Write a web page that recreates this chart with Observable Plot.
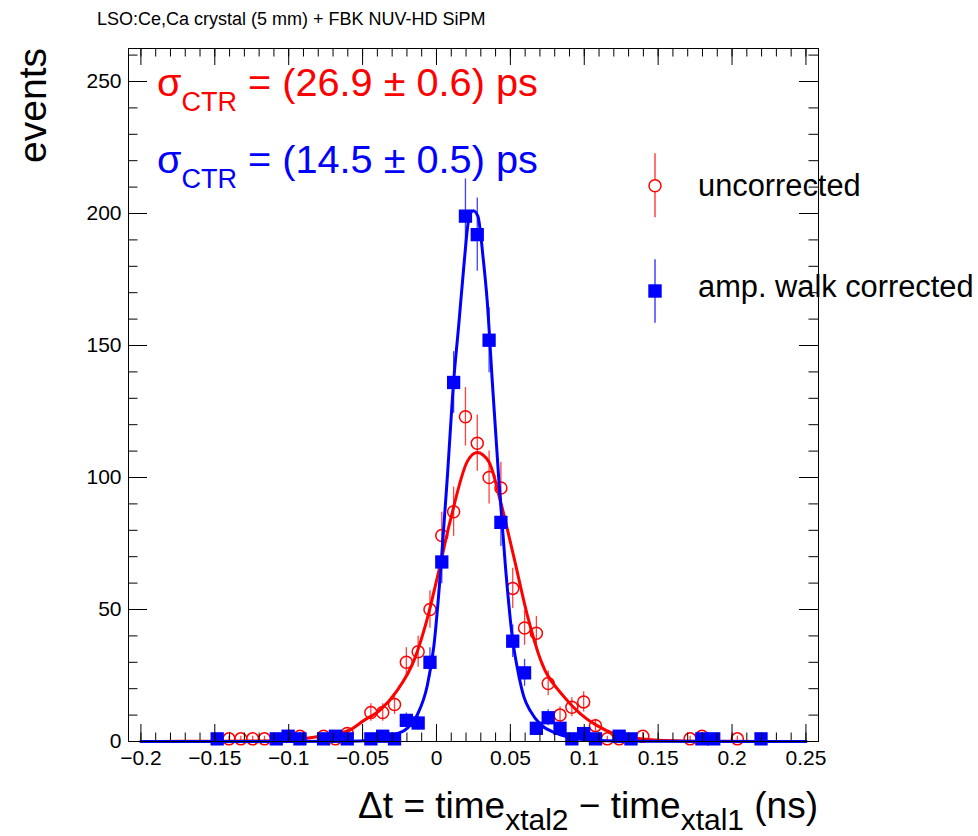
<!DOCTYPE html>
<html><head><meta charset="utf-8">
<script src="https://cdn.jsdelivr.net/npm/d3@7"></script>
<script src="https://cdn.jsdelivr.net/npm/@observablehq/plot@0.6"></script>
<style>
html,body{margin:0;padding:0;background:#fff;}
#wrap{position:relative;width:978px;height:836px;overflow:hidden;font-family:"Liberation Sans",Arial,Helvetica,sans-serif;color:#000;}
.abs{position:absolute;white-space:nowrap;line-height:1;}
</style></head><body><div id="wrap"></div>
<script>
// ---- data ----
const uncorrX = [-0.1404,-0.1324,-0.1244,-0.1164,-0.0924,-0.0764,-0.0684,-0.0604,-0.0444,-0.0364,-0.0284,-0.0204,-0.0124,-0.0044,0.0036,0.0116,0.0196,0.0276,0.0356,0.0436,0.0516,0.0596,0.0676,0.0756,0.0836,0.0916,0.0996,0.1076,0.1156,0.1236,0.1396,0.1716,0.1796,0.2036];
const uncorrN = [1,1,1,1,2,2,1,3,11,11,14,30,34,50,78,87,123,113,100,96,58,43,41,22,10,13,15,6,1,1,2,1,2,1];
const corrX = [-0.1484,-0.1084,-0.1004,-0.0924,-0.0764,-0.0684,-0.0604,-0.0444,-0.0364,-0.0284,-0.0204,-0.0124,-0.0044,0.0036,0.0116,0.0196,0.0276,0.0356,0.0436,0.0516,0.0596,0.0676,0.0756,0.0836,0.0916,0.0996,0.1076,0.1236,0.1316,0.1796,0.1876,0.2196];
const corrN = [1,1,2,1,1,2,1,1,2,1,8,7,30,68,136,199,192,152,83,38,26,5,9,5,1,3,1,2,1,1,1,1];
// fit curves
const uncorrFitX = [-0.2,-0.173,-0.13,-0.106,-0.083,-0.06,-0.049,-0.038,-0.027,-0.015,-0.006,0.0005,0.0095,0.0208,0.0275,0.0354,0.0433,0.0523,0.0614,0.0704,0.0862,0.0974,0.1087,0.12,0.1313,0.1536,0.19,0.25];
const uncorrFitY = [0,0.05,0.15,0.4,1.6,4,8,12,19,31,47,62,84,106,109.5,106,91,70,48,31,17,10.5,6,3,1.6,0.4,0.05,0];
const corrFitX = [-0.2,-0.06,-0.0447,-0.0289,-0.0198,-0.0131,-0.0063,-0.0018,0.0027,0.0072,0.0117,0.0151,0.0185,0.0219,0.0248,0.028,0.0316,0.0343,0.0377,0.0422,0.0467,0.0512,0.0557,0.0591,0.0636,0.0704,0.0794,0.0907,0.1087,0.138,0.25];
const corrFitY = [0,0.1,0.4,2.5,5,10,21,36,64,99,137,158,180,198,201,199,183,167,137,99,66,40,25,17,11.5,6.5,3.5,1.5,0.4,0.1,0];
// axis ticks
const xMajor = [-0.2,-0.15,-0.1,-0.05,0,0.05,0.1,0.15,0.2,0.25];
const xMinor = [-0.2,-0.19,-0.18,-0.17,-0.16,-0.15,-0.14,-0.13,-0.12,-0.11,-0.1,-0.09,-0.08,-0.07,-0.06,-0.05,-0.04,-0.03,-0.02,-0.01,0,0.01,0.02,0.03,0.04,0.05,0.06,0.07,0.08,0.09,0.1,0.11,0.12,0.13,0.14,0.15,0.16,0.17,0.18,0.19,0.2,0.21,0.22,0.23,0.24,0.25];
const yMajor = [0,50,100,150,200,250];
const yMinor = [0,10,20,30,40,50,60,70,80,90,100,110,120,130,140,150,160,170,180,190,200,210,220,230,240,250,260];

const RED = "#ff0000", BLUE = "#0000ff";
const W = 978, H = 836, mL = 128, mR = 160, mT = 48, mB = 95;
const iw = W - mL - mR, ih = H - mT - mB;

const red = uncorrX.map((x,i)=>({x, n: uncorrN[i]}));
const blue = corrX.map((x,i)=>({x, n: corrN[i]}));
const redFit = uncorrFitX.map((x,i)=>({x, y: uncorrFitY[i]}));
const blueFit = corrFitX.map((x,i)=>({x, y: corrFitY[i]}));

const fmt = d3.format("~g");
const xT = 17, xt = 8.5, yT = 19, yt = 9.5;

const chart = Plot.plot({
  width: W, height: H,
  marginLeft: mL, marginRight: mR, marginTop: mT, marginBottom: mB,
  x: {domain: [-0.2084, 0.2585], axis: null},
  y: {domain: [0, 262.5], axis: null},
  style: {fontFamily: "'Liberation Sans', Arial, Helvetica, sans-serif", fontSize: "21px", color: "#000", background: "transparent", overflow: "visible"},
  marks: [
    Plot.line(redFit, {x: "x", y: "y", stroke: RED, strokeWidth: 3, curve: "monotone-x"}),
    Plot.ruleX(red, {x: "x", y1: d => d.n - Math.sqrt(d.n), y2: d => d.n + Math.sqrt(d.n), stroke: RED, strokeWidth: 1.3, strokeOpacity: 0.75}),
    Plot.dot(red, {x: "x", y: "n", r: 6, stroke: RED, strokeWidth: 1.5, fill: "none"}),
    Plot.ruleX(blue, {x: "x", y1: d => d.n - Math.sqrt(d.n), y2: d => d.n + Math.sqrt(d.n), stroke: BLUE, strokeWidth: 1.3, strokeOpacity: 0.75}),
    Plot.dot(blue, {x: "x", y: "n", symbol: "square", r: 7.5, fill: BLUE, stroke: "none"}),
    Plot.line(blueFit, {x: "x", y: "y", stroke: BLUE, strokeWidth: 3, curve: "monotone-x"}),
    // inward ticks on all four sides
    Plot.tickX(xMajor, {x: d => d, insetTop: ih - xT, stroke: "#000"}),
    Plot.tickX(xMinor, {x: d => d, insetTop: ih - xt, stroke: "#000"}),
    Plot.tickX(xMajor, {x: d => d, insetBottom: ih - xT, stroke: "#000"}),
    Plot.tickX(xMinor, {x: d => d, insetBottom: ih - xt, stroke: "#000"}),
    Plot.tickY(yMajor, {y: d => d, insetRight: iw - yT, stroke: "#000"}),
    Plot.tickY(yMinor, {y: d => d, insetRight: iw - yt, stroke: "#000"}),
    Plot.tickY(yMajor, {y: d => d, insetLeft: iw - yT, stroke: "#000"}),
    Plot.tickY(yMinor, {y: d => d, insetLeft: iw - yt, stroke: "#000"}),
    Plot.axisX({ticks: xMajor, anchor: "bottom", tickSize: 0, tickPadding: 9, tickFormat: fmt, label: null, fontSize: 21}),
    Plot.axisY({ticks: yMajor, anchor: "left", tickSize: 0, tickPadding: 7, tickFormat: fmt, label: null, fontSize: 21}),
    Plot.frame({stroke: "#000", strokeWidth: 1})
  ]
});
chart.style.position = "absolute";
chart.style.left = "0px";
chart.style.top = "0px";
const wrap = document.getElementById("wrap");
wrap.appendChild(chart);

function addDiv(html, style) {
  const d = document.createElement("div");
  d.className = "abs";
  d.innerHTML = html;
  Object.assign(d.style, style);
  wrap.appendChild(d);
  return d;
}
// baseline helper: top = baseline - 0.8465*fs (line-height:1)
const baseTop = (b, fs) => (b - 0.8465 * fs) + "px";

addDiv("LSO:Ce,Ca crystal (5 mm) + FBK NUV-HD SiPM", {left: "97px", top: baseTop(25, 18), fontSize: "18px"});
addDiv("σ<span style=\"font-size:27px;vertical-align:-15px\">CTR</span> = (26.9 ± 0.6) ps", {left: "157px", top: baseTop(97, 39.7), fontSize: "39.7px", color: RED});
addDiv("σ<span style=\"font-size:27px;vertical-align:-15px\">CTR</span> = (14.5 ± 0.5) ps", {left: "157px", top: baseTop(174, 39.7), fontSize: "39.7px", color: BLUE});
addDiv("Δt = time<span style=\"font-size:30px;vertical-align:-12px\">xtal2</span> − time<span style=\"font-size:30px;vertical-align:-12px\">xtal1</span> (ns)", {right: "160px", top: baseTop(818, 37), fontSize: "37px"});
addDiv("events", {left: "13px", top: "248px", width: "200px", textAlign: "right", fontSize: "39px", transformOrigin: "0 0", transform: "rotate(-90deg)"});

// legend
const ns = "http://www.w3.org/2000/svg";
const lg = document.createElementNS(ns, "svg");
lg.setAttribute("width", "40"); lg.setAttribute("height", "200");
Object.assign(lg.style, {position: "absolute", left: "635px", top: "140px", overflow: "visible"});
lg.innerHTML =
  '<line x1="20" x2="20" y1="13.3" y2="77.3" stroke="' + RED + '" stroke-width="1.3" stroke-opacity="0.85"/>' +
  '<circle cx="20" cy="45.7" r="6" fill="#fff" stroke="' + RED + '" stroke-width="1.5"/>' +
  '<line x1="20" x2="20" y1="119.3" y2="182.7" stroke="' + BLUE + '" stroke-width="1.3" stroke-opacity="0.85"/>' +
  '<rect x="13.3" y="144.3" width="13.4" height="13.4" fill="' + BLUE + '"/>';
wrap.appendChild(lg);
addDiv("uncorrected", {left: "698px", top: baseTop(197, 30.8), fontSize: "30.8px"});
addDiv("amp. walk corrected", {left: "698px", top: baseTop(298, 30.8), fontSize: "30.8px"});
</script>
</body></html>
